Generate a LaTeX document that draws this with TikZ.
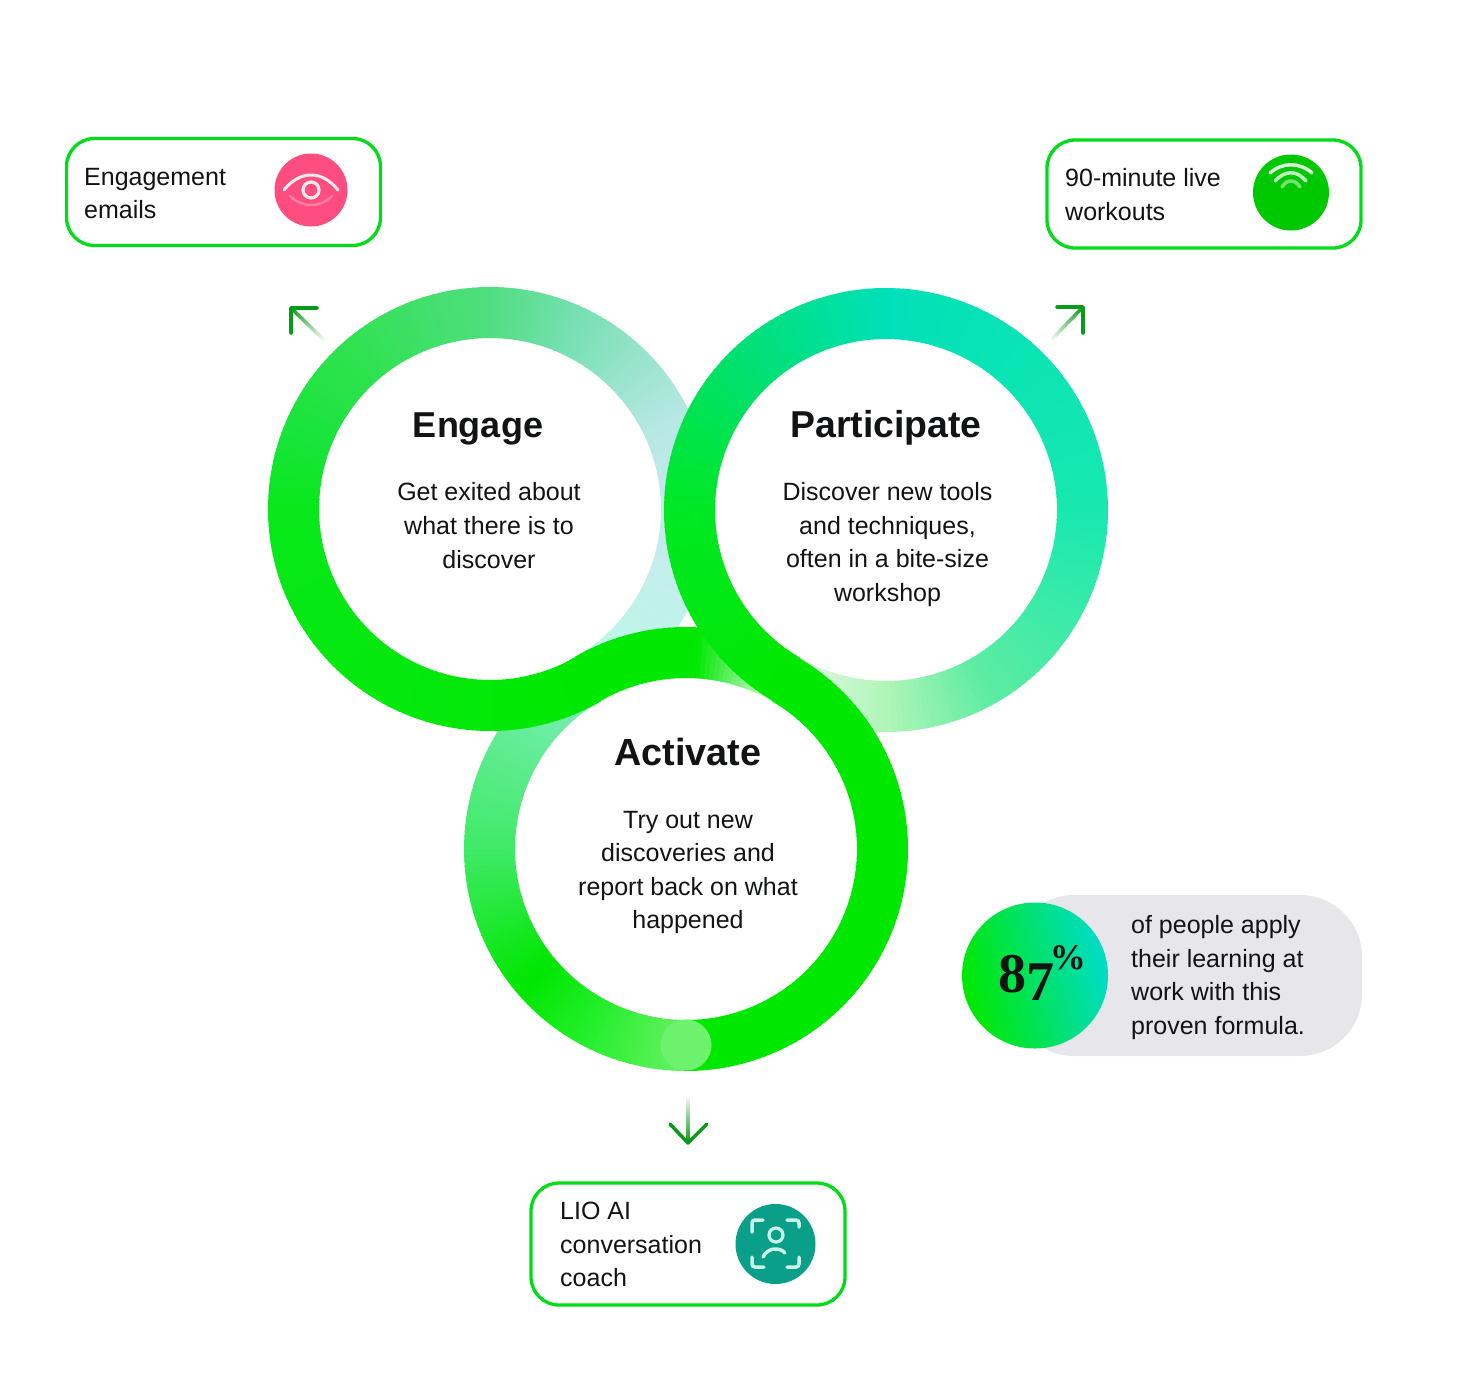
\documentclass[tikz,border=0pt]{standalone}
\usepackage{fontspec}
\setmainfont{Liberation Sans}
\newfontfamily\numfont{Liberation Serif}
\usetikzlibrary{calc}
\definecolor{boxgreen}{HTML}{00DD18}
\definecolor{arrowgreen}{HTML}{089A18}
\definecolor{inkblack}{HTML}{111314}
\definecolor{pillgrey}{HTML}{E6E6EB}
\definecolor{eyepink}{HTML}{FF4D80}
\definecolor{wavegreen}{HTML}{00C800}
\definecolor{coachteal}{HTML}{0A9F88}
\definecolor{paleteal}{HTML}{C8F5E8}
\definecolor{knobgreen}{HTML}{6CF26C}
\definecolor{figgreen}{HTML}{00E800}
\definecolor{figteal}{HTML}{00DCC8}
\tikzset{
  actionbox/.style={draw=boxgreen, line width=3.3pt, rectangle, rounded corners=28pt, minimum width=#1},
  bodytext/.style={font=\fontsize{25}{33.6}\selectfont, text=inkblack, align=center, inner sep=0pt},
  boxtext/.style={bodytext, align=left, anchor=west},
  titletext/.style={font=\fontsize{#1}{40}\selectfont\bfseries, text=inkblack, inner sep=0pt},
  iconline/.style={line width=3.5pt, line cap=round},
  tipline/.style={arrowgreen, line width=3.5pt, line cap=round, line join=round}
}
% one piece of ring, colour runs from #5 to #6
\newcommand{\ringpart}[6]{%
  \definecolor{ringfrom}{HTML}{#5}\definecolor{ringto}{HTML}{#6}
  \pgfmathtruncatemacro{\nseg}{max(1,(#4-#3)/1.5)}
  \foreach \i in {1,...,\nseg}{
    \pgfmathsetmacro{\ta}{#3+(\i-1)*(#4-#3)/\nseg}
    \pgfmathsetmacro{\tb}{#3+\i*(#4-#3)/\nseg+0.4}
    \pgfmathsetmacro{\mixv}{100*(\i-0.5)/\nseg}
    \fill [color=ringto!\mixv!ringfrom]
      ({#1+171*cos(\ta)}, {#2+171*sin(\ta)}) -- ({#1+222*cos(\ta)}, {#2+222*sin(\ta)})
      -- ({#1+222*cos(\tb)}, {#2+222*sin(\tb)}) -- ({#1+171*cos(\tb)}, {#2+171*sin(\tb)}) -- cycle;
  }}
% fading shaft of an arrow
\newcommand{\fadeshaft}[2]{%
  \foreach \i in {1,...,24}{
    \pgfmathsetmacro{\mixv}{100*(\i-0.5)/24}
    \draw [color=arrowgreen!\mixv!white, line width=3.5pt]
      ($(#1)!{(\i-1)/24}!(#2)$) -- ($(#1)!{(\i+0.2)/24}!(#2)$);
  }}
\begin{document}
\begin{tikzpicture}[x=1pt, y=-1pt]
  \useasboundingbox (0, 0) rectangle (1473, 1382);
  % pale parts of rings
  \ringpart{490}{509}{180}{200}{08E81A}{18E43A}
  \ringpart{490}{509}{200}{225}{18E43A}{2CE24C}
  \ringpart{490}{509}{225}{270}{2CE24C}{50DE80}
  \ringpart{490}{509}{270}{295}{50DE80}{78DFB4}
  \ringpart{490}{509}{295}{335}{78DFB4}{B8E8E4}
  \ringpart{490}{509}{335}{360}{B8E8E4}{C5EAEE}
  \ringpart{490}{509}{360}{420}{C5EAEE}{BDF8E8}
  \ringpart{886}{510}{180}{225}{00E824}{00E070}
  \ringpart{886}{510}{225}{270}{00E070}{00E0B8}
  \ringpart{886}{510}{270}{360}{00E0B8}{18E8B0}
  \ringpart{886}{510}{360}{420}{18E8B0}{5CECA2}
  \ringpart{886}{510}{420}{450}{5CECA2}{B0F5B8}
  \ringpart{886}{510}{450}{480}{B0F5B8}{E4FAE4}
  \ringpart{686}{849}{90}{100}{66F066}{50F050}
  \ringpart{686}{849}{100}{120}{50F050}{20EE28}
  \ringpart{686}{849}{120}{140}{20EE28}{00E600}
  \ringpart{686}{849}{140}{180}{00E600}{40EA68}
  \ringpart{686}{849}{180}{225}{40EA68}{70EDA8}
  \ringpart{686}{849}{225}{240}{70EDA8}{80EDBA}
  \ringpart{686}{849}{273}{300}{00E800}{E8FBE8}
  % solid band
  \ringpart{490}{509}{60}{180}{00E800}{08E81A}
  \ringpart{686}{849}{240}{273}{00E800}{00E800}
  \ringpart{886}{510}{120}{180}{00E800}{00E824}
  \ringpart{686}{849}{300}{450}{00E800}{00E800}
  \node (knob) [circle, fill=knobgreen, minimum size=51pt, inner sep=0pt] at (686, 1045) {};
  % ring texts
  \node (engage) [titletext=36] at (478, 429) {Engage};
  \node (engagetext) [bodytext] at (489, 525.5) {Get exited about\\what there is to\\discover};
  \node (participate) [titletext=37.4] at (886, 428) {Participate};
  \node (participatetext) [bodytext] at (887.5, 544.5) {Discover new tools\\and techniques,\\often in a bite-size\\workshop};
  \node (activate) [titletext=37.8] at (688, 752) {Activate};
  \node (activatetext) [bodytext] at (688, 872.5) {Try out new\\discoveries and\\report back on what\\happened};
  % boxes
  \node (mailbox) [actionbox=314pt, minimum height=107pt] at (223.5, 192) {};
  \node (mailtext) [boxtext] at (84, 193.5) {Engagement\\emails};
  \node (eye) [circle, fill=eyepink, minimum size=73pt, inner sep=0pt] at (311, 190) {};
  \node (livebox) [actionbox=314pt, minimum height=108pt] at (1204, 194) {};
  \node (livetext) [boxtext] at (1065, 194.5) {90-minute live\\workouts};
  \node (wave) [circle, fill=wavegreen, minimum size=76pt, inner sep=0pt] at (1291, 192.5) {};
  \node (coachbox) [actionbox=314pt, minimum height=122pt] at (688, 1244) {};
  \node (coachtext) [boxtext] at (560, 1244.5) {LIO AI\\conversation\\coach};
  \node (coach) [circle, fill=coachteal, minimum size=80pt, inner sep=0pt] at (775.5, 1244) {};
  % eye icon
  \draw [white!88!eyepink, line width=3pt, line cap=round] (284, 190) .. controls (300, 170) and (322, 170) .. (338, 190);
  \draw [white!28!eyepink, line width=2.5pt, line cap=round] (290, 196) .. controls (302, 208) and (320, 208) .. (332, 196);
  \draw [white!88!eyepink, line width=3.2pt] (311, 190) circle (8pt);
  % wave icon
  \draw [white!85!wavegreen, iconline] (1270, 173) .. controls (1282, 162) and (1300, 162) .. (1312, 173);
  \draw [white!75!wavegreen, iconline] (1275, 181) .. controls (1285, 170) and (1297, 170) .. (1306, 181);
  \draw [white!45!wavegreen, iconline] (1282, 187) .. controls (1287, 179) and (1295, 179) .. (1300, 187);
  % coach icon
  \draw [paleteal, line width=3.2pt] (776, 1235) circle (7pt);
  \draw [paleteal, iconline] (763, 1257) .. controls (768, 1247) and (780, 1247) .. (785, 1253);
  \draw [paleteal, iconline, rounded corners=3pt] (752, 1232) -- (752, 1220) -- (763, 1220);
  \draw [paleteal, iconline, rounded corners=3pt] (787, 1220) -- (799, 1220) -- (799, 1227);
  \draw [paleteal, iconline, rounded corners=3pt] (752, 1257) -- (752, 1267) -- (764, 1267);
  \draw [paleteal, iconline, rounded corners=3pt] (787, 1267) -- (799, 1267) -- (799, 1257);
  % arrows
  \coordinate (tailone) at (325, 341);
  \coordinate (tipone) at (291, 308);
  \coordinate (tailtwo) at (1050, 341);
  \coordinate (tiptwo) at (1083, 307);
  \coordinate (tailthree) at (688, 1095);
  \coordinate (tipthree) at (688, 1143);
  \fadeshaft{tailone}{tipone}
  \fadeshaft{tailtwo}{tiptwo}
  \fadeshaft{tailthree}{tipthree}
  \draw [tipline] (317, 308) -- (tipone) -- (291, 333);
  \draw [tipline] (1057, 307) -- (tiptwo) -- (1083, 333);
  \draw [tipline] (670, 1124) -- (tipthree) -- (707, 1124);
  % figure
  \node (pill) [rectangle, fill=pillgrey, rounded corners=62pt, minimum width=350pt, minimum height=161pt] at (1187, 975.5) {};
  \node (pilltext) [boxtext] at (1131, 977.5) {of people apply\\their learning at\\work with this\\proven formula.};
  \shade [left color=figteal, right color=figgreen, shading angle=-75] (1035, 975.5) circle (73pt);
  \node (figure) [inner sep=0pt, text=inkblack, font=\numfont\bfseries\fontsize{56}{60}\selectfont] at (1042, 973)
    {8\raisebox{-0.14em}{7}\kern-0.08em\raisebox{0.42em}{\fontsize{36}{38}\selectfont\%}};
\end{tikzpicture}
\end{document}
